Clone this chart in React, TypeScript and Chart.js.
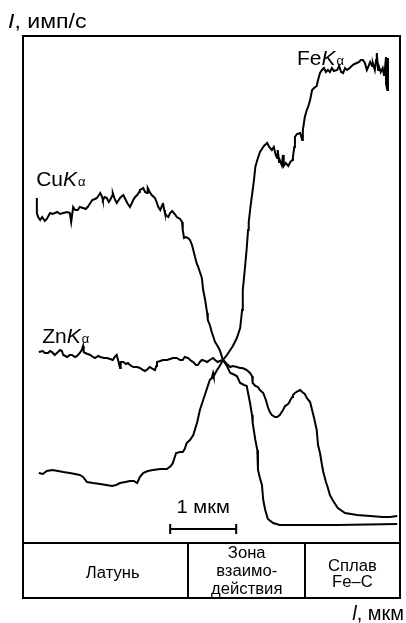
import React, { useEffect, useRef } from "react";
import { Chart, registerables } from "chart.js";

Chart.register(...registerables);

// Scan position l, µm
const feX = [0.24,0.30,0.36,0.45,0.53,0.61,0.71,0.79,0.86,0.91,0.97,1.06,1.17,1.26,1.35,1.41,1.47,1.55,1.62,1.68,1.73,1.77,1.82,1.89,1.97,2.08,2.18,2.24,2.27,2.32,2.38,2.42,2.45,2.48,2.53,2.58,2.64,2.68,2.73,2.79,2.83,2.86,2.88,2.89,2.94,2.98,3.03,3.09,3.14,3.18,3.24,3.29,3.32,3.33,3.36,3.39,3.41,3.42,3.45,3.48,3.50,3.52,3.55,3.59,3.62,3.65,3.70,3.73,3.77,3.80,3.83,3.85,3.86,3.88,3.89,3.92,3.94,3.95,3.98,4.02,4.05,4.08,4.09,4.11,4.12,4.15,4.20,4.23,4.24,4.27,4.30,4.32,4.35,4.38,4.41,4.45,4.47,4.50,4.53,4.56,4.59,4.62,4.65,4.68,4.71,4.76,4.79,4.82,4.85,4.88,4.91,4.95,4.98,5.02,5.06,5.09,5.12,5.15,5.18,5.21,5.23,5.26,5.29,5.30,5.33,5.35,5.36,5.38,5.39,5.42,5.45,5.47,5.48,5.50,5.50,5.52,5.53,5.53];
const feY = [70,69,72,73,72,71,70,69,68,66,61,60,59,58,57,58,60,61,62,62,60,66,70,72,73,74,74,77,80,90,91,91,94,100,103,108,121,133,143,155,163,165,170,167,173,177,183,188,193,197,205,215,233,253,273,295,313,321,338,353,363,376,383,391,394,397,400,396,393,396,388,385,393,381,383,378,388,377,380,377,381,383,386,396,406,409,410,403,413,426,433,436,443,453,455,457,463,470,473,475,471,473,471,475,472,473,477,471,470,475,473,475,477,479,480,481,483,483,480,473,476,481,477,480,473,483,490,473,477,471,475,468,471,486,459,453,485,456];

const cuX = [0.21,0.21,0.21,0.23,0.26,0.29,0.30,0.33,0.36,0.41,0.45,0.52,0.56,0.61,0.67,0.71,0.73,0.76,0.79,0.83,0.86,0.91,0.95,0.98,1.02,1.05,1.09,1.12,1.17,1.20,1.21,1.24,1.27,1.30,1.32,1.35,1.36,1.39,1.42,1.45,1.47,1.50,1.52,1.55,1.58,1.62,1.65,1.67,1.70,1.73,1.76,1.77,1.80,1.82,1.85,1.88,1.89,1.92,1.95,2.00,2.03,2.05,2.08,2.11,2.12,2.14,2.15,2.18,2.20,2.23,2.26,2.30,2.33,2.38,2.41,2.42,2.44,2.47,2.50,2.53,2.56,2.58,2.61,2.64,2.65,2.68,2.71,2.73,2.76,2.79,2.80,2.83,2.86,2.88,2.91,2.94,2.98,3.03,3.09,3.14,3.18,3.24,3.29,3.35,3.39,3.41,3.44,3.47,3.48,3.52,3.55,3.56,3.59,3.62,3.64,3.67,3.71,3.79,3.89,4.20,4.76,5.67];
const cuY = [345,338,330,326,323,326,325,322,324,330,329,331,329,330,331,330,321,336,333,333,336,335,334,336,340,343,344,345,350,346,343,346,345,341,343,347,350,344,340,343,345,347,348,344,340,336,340,343,346,348,351,353,354,355,351,350,355,351,348,345,340,336,333,338,340,333,330,327,326,330,332,329,326,324,321,313,305,306,305,303,298,293,285,278,277,271,265,253,243,230,223,218,211,207,201,198,193,183,177,170,169,167,160,158,157,150,140,128,120,103,93,73,65,58,43,33,24,20,18,18,18,19];

const znX = [0.24,0.30,0.33,0.38,0.41,0.44,0.48,0.53,0.56,0.59,0.61,0.67,0.71,0.74,0.79,0.82,0.86,0.89,0.91,0.92,0.94,0.98,1.02,1.06,1.09,1.14,1.17,1.23,1.27,1.32,1.36,1.39,1.42,1.44,1.47,1.48,1.52,1.56,1.59,1.62,1.67,1.73,1.77,1.82,1.85,1.89,1.92,1.97,2.00,2.02,2.03,2.08,2.12,2.18,2.23,2.27,2.33,2.38,2.42,2.45,2.50,2.55,2.58,2.62,2.65,2.68,2.71,2.76,2.79,2.83,2.88,2.91,2.95,2.98,3.03,3.09,3.14,3.18,3.24,3.29,3.32,3.36,3.39,3.44,3.47,3.48,3.52,3.56,3.59,3.64,3.68,3.71,3.74,3.77,3.82,3.85,3.89,3.92,3.94,3.97,4.00,4.03,4.05,4.08,4.09,4.12,4.17,4.20,4.23,4.27,4.30,4.35,4.38,4.41,4.45,4.47,4.50,4.53,4.55,4.59,4.62,4.65,4.70,4.77,4.88,5.06,5.26,5.45,5.56,5.67];
const znY = [191,192,190,190,192,191,188,191,193,192,188,186,188,188,186,187,190,193,197,191,190,189,188,186,185,187,186,185,185,184,183,186,188,183,175,181,181,179,180,178,176,176,175,173,172,174,176,174,173,177,181,182,183,183,184,185,185,183,183,186,185,182,181,178,178,181,183,182,181,183,185,183,181,182,183,179,176,177,176,175,175,174,173,170,167,160,157,156,153,150,143,136,131,128,126,126,128,131,133,137,138,140,143,146,148,150,152,153,151,149,145,141,133,125,113,98,90,78,71,61,55,48,42,35,30,28,27,26,26,27];

const seriesNames = ["Cu", "Zn", "Fe"];
const labelX = [0.2, 0.29, 4.15];
const labelY = [357, 200, 478];

const zoneEdges = [0, 2.5, 4.27, 5.712];
const zoneCenters = [1.36, 3.39, 4.99];
const zoneLabels = [["Латунь"], ["Зона", "взаимо-", "действия"], ["Сплав", "Fe–C"]];
const zoneBaselines = [[35], [15, 33, 51], [28, 44]];

const scaleBarStart = 2.23;
const scaleBarLength = 1; // µm
const scaleBarY = 14;
const scaleBarText = "1 мкм";
const yAxisTitle = ["I", ", имп/с"];
const xAxisTitle = ["l", ", мкм"];

const FONT = '"Liberation Sans", Arial, sans-serif';
const TABLE_H = 55;

function pts(xs: number[], ys: number[]) {
  return xs.map((x, i) => ({ x, y: ys[i] }));
}

// draws text with a slight horizontal stretch; returns drawn width
function stretchText(ctx: CanvasRenderingContext2D, t: string, x: number, y: number, sx: number, align: "left" | "center") {
  const w = ctx.measureText(t).width * sx;
  const left = align === "center" ? x - w / 2 : x;
  ctx.save();
  ctx.translate(left, y);
  ctx.scale(sx, 1);
  ctx.textAlign = "left";
  ctx.fillText(t, 0, 0);
  ctx.restore();
  return w;
}

function drawKLabel(ctx: CanvasRenderingContext2D, el: string, px: number, py: number) {
  ctx.textAlign = "left";
  ctx.textBaseline = "alphabetic";
  ctx.font = `21px ${FONT}`;
  ctx.fillText(el, px, py);
  let w = ctx.measureText(el).width;
  ctx.font = `italic 21px ${FONT}`;
  ctx.fillText("K", px + w, py);
  w += ctx.measureText("K").width;
  ctx.font = `13px ${FONT}`;
  ctx.fillText("α", px + w + 1, py);
}

const overlay = {
  id: "overlay",
  afterDraw(chart: any) {
    const { ctx, chartArea: ca, scales } = chart;
    const xs = scales.x, ys = scales.y;
    ctx.save();
    ctx.strokeStyle = "#000";
    ctx.fillStyle = "#000";
    ctx.lineWidth = 2;
    ctx.textBaseline = "alphabetic";
    const tb = ca.bottom + TABLE_H;
    ctx.strokeRect(ca.left, ca.top, ca.right - ca.left, tb - ca.top);
    ctx.beginPath();
    ctx.moveTo(ca.left, ca.bottom);
    ctx.lineTo(ca.right, ca.bottom);
    for (let i = 1; i < zoneEdges.length - 1; i++) {
      const px = Math.round(xs.getPixelForValue(zoneEdges[i]));
      ctx.moveTo(px, ca.bottom);
      ctx.lineTo(px, tb);
    }
    ctx.stroke();

    // zone labels
    ctx.font = `16px ${FONT}`;
    zoneLabels.forEach((lines, i) => {
      const cx = xs.getPixelForValue(zoneCenters[i]);
      lines.forEach((t, j) => stretchText(ctx, t, cx, ca.bottom + zoneBaselines[i][j], 1.04, "center"));
    });

    // scale bar
    const x0 = xs.getPixelForValue(scaleBarStart);
    const x1 = xs.getPixelForValue(scaleBarStart + scaleBarLength);
    const yb = ys.getPixelForValue(scaleBarY);
    ctx.beginPath();
    ctx.moveTo(x0, yb); ctx.lineTo(x1, yb);
    ctx.moveTo(x0, yb - 5); ctx.lineTo(x0, yb + 5);
    ctx.moveTo(x1, yb - 5); ctx.lineTo(x1, yb + 5);
    ctx.stroke();
    ctx.font = `18px ${FONT}`;
    stretchText(ctx, scaleBarText, (x0 + x1) / 2, yb - 16, 1.12, "center");

    // curve labels
    seriesNames.forEach((n, i) => {
      drawKLabel(ctx, n, xs.getPixelForValue(labelX[i]), ys.getPixelForValue(labelY[i]));
    });

    // axis titles
    ctx.font = `italic 21px ${FONT}`;
    let w = stretchText(ctx, yAxisTitle[0], 8, 28, 1.1, "left");
    ctx.font = `21px ${FONT}`;
    stretchText(ctx, yAxisTitle[1], 8 + w, 28, 1.1, "left");

    ctx.font = `20px ${FONT}`;
    const w2 = ctx.measureText(xAxisTitle[1]).width;
    ctx.textAlign = "left";
    ctx.fillText(xAxisTitle[1], ca.right + 4 - w2, 620);
    ctx.font = `italic 20px ${FONT}`;
    const w1 = ctx.measureText(xAxisTitle[0]).width;
    ctx.fillText(xAxisTitle[0], ca.right + 4 - w2 - w1, 620);
    ctx.restore();
  },
};

export default function App() {
  const ref = useRef<HTMLCanvasElement | null>(null);
  useEffect(() => {
    if (!ref.current) return;
    const ds = (data: any) => ({
      data,
      borderColor: "#000",
      borderWidth: 2,
      pointRadius: 0,
      fill: false,
      tension: 0,
    });
    const chart = new Chart(ref.current, {
      type: "line",
      data: {
        datasets: [ds(pts(cuX, cuY)), ds(pts(znX, znY)), ds(pts(feX, feY))],
      },
      options: {
        animation: false,
        responsive: false,
        maintainAspectRatio: false,
        layout: { padding: { left: 23, right: 6, top: 36, bottom: 80 } },
        plugins: { legend: { display: false }, tooltip: { enabled: false } },
        scales: {
          x: { type: "linear", min: 0, max: 5.712, display: false },
          y: { type: "linear", min: 0, max: 507, display: false },
        },
      },
      plugins: [overlay],
    });
    return () => chart.destroy();
  }, []);
  return (
    <div style={{ position: "absolute", left: 0, top: 0, width: 406, height: 623, background: "#fff" }}>
      <canvas ref={ref} width={406} height={623} style={{ width: 406, height: 623, display: "block" }} />
    </div>
  );
}
